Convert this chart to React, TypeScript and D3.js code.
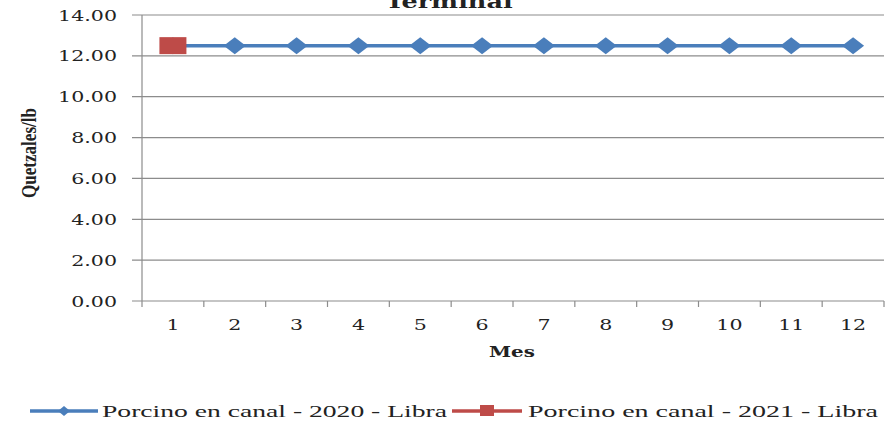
import React from "react";
import * as d3 from "d3";

const months = ["1", "2", "3", "4", "5", "6", "7", "8", "9", "10", "11", "12"];
const series2020 = [12.5, 12.5, 12.5, 12.5, 12.5, 12.5, 12.5, 12.5, 12.5, 12.5, 12.5, 12.5];
const series2021 = [12.5];
const yTicks = [0, 2, 4, 6, 8, 10, 12, 14];
const legendLabels = ["Porcino en canal - 2020 - Libra", "Porcino en canal - 2021 - Libra"];

const W = 891, H = 424;
const left = 142, right = 884, top = 15, bottom = 301;
const BLUE = "#4a7ebb", RED = "#be4b48", GRID = "#8c8c8c";
const SX = 1.42;

function ST({ x, y, anchor, children, size, weight, family }: any) {
  return (
    <g transform={`translate(${x},${y}) scale(${SX},1)`}>
      <text textAnchor={anchor} fontSize={size} fontWeight={weight} fontFamily={family} fill="#222">{children}</text>
    </g>
  );
}

export default function App() {
  const x = d3.scaleBand().domain(months).range([left, right]);
  const y = d3.scaleLinear().domain([0, 14]).range([bottom, top]);
  const cx = (m: string) => (x(m) as number) + x.bandwidth() / 2;
  const line = d3.line<number>().x((_, i) => cx(months[i])).y((d) => y(d));
  const diamond = (px: number, py: number) => `M${px - 11},${py} L${px},${py - 8.5} L${px + 11},${py} L${px},${py + 8.5} Z`;
  const serif = "DejaVu Serif";
  return (
    <svg width={W} height={H} style={{ position: "absolute", left: 0, top: 0, background: "#fff" }}>
      <ST x={449} y={8} anchor="middle" size={18} weight="bold" family={serif}>Terminal</ST>
      {yTicks.map((t) => (
        <g key={t}>
          <line x1={132} x2={right} y1={y(t)} y2={y(t)} stroke={GRID} strokeWidth={1.2} />
          <ST x={117} y={y(t) + 5.5} anchor="end" size={14.5} family={serif}>{t.toFixed(2)}</ST>
        </g>
      ))}
      <line x1={left} x2={left} y1={top} y2={bottom + 6} stroke={GRID} strokeWidth={1.2} />
      {months.map((m, i) => (
        <g key={m}>
          <line x1={(x(m) as number) + x.bandwidth()} x2={(x(m) as number) + x.bandwidth()} y1={bottom} y2={bottom + 6} stroke={GRID} strokeWidth={1.2} />
          <ST x={cx(m)} y={330} anchor="middle" size={14.5} family={serif}>{m}</ST>
        </g>
      ))}
      <ST x={512} y={357} anchor="middle" size={14} weight="bold" family={serif}>Mes</ST>
      <g transform={`translate(36,153) rotate(-90)`}>
        <text textAnchor="middle" fontSize={20} fontWeight="bold" fontFamily="Liberation Serif" fill="#222" textLength={90} lengthAdjust="spacingAndGlyphs">Quetzales/lb</text>
      </g>
      <path d={line(series2020) || ""} fill="none" stroke={BLUE} strokeWidth={3.5} />
      {series2020.map((v, i) => (
        <path key={i} d={diamond(cx(months[i]), y(v))} fill={BLUE} />
      ))}
      <path d={line(series2021) || ""} fill="none" stroke={RED} strokeWidth={3.5} />
      {series2021.map((v, i) => (
        <rect key={i} x={cx(months[i]) - 13.5} y={y(v) - 8.5} width={27} height={17} fill={RED} />
      ))}
      <line x1={30} x2={98} y1={411} y2={411} stroke={BLUE} strokeWidth={3.5} />
      <path d={`M${64 - 6},411 L64,${411 - 5} L${64 + 6},411 L64,${411 + 5} Z`} fill={BLUE} />
      <text x={102} y={417} fontSize={17} fontFamily="Liberation Serif" fill="#222" textLength={345} lengthAdjust="spacingAndGlyphs">{legendLabels[0]}</text>
      <line x1={452} x2={522} y1={411} y2={411} stroke={RED} strokeWidth={3.5} />
      <rect x={480} y={405} width={14} height={11} fill={RED} />
      <text x={528} y={417} fontSize={17} fontFamily="Liberation Serif" fill="#222" textLength={350} lengthAdjust="spacingAndGlyphs">{legendLabels[1]}</text>
    </svg>
  );
}
